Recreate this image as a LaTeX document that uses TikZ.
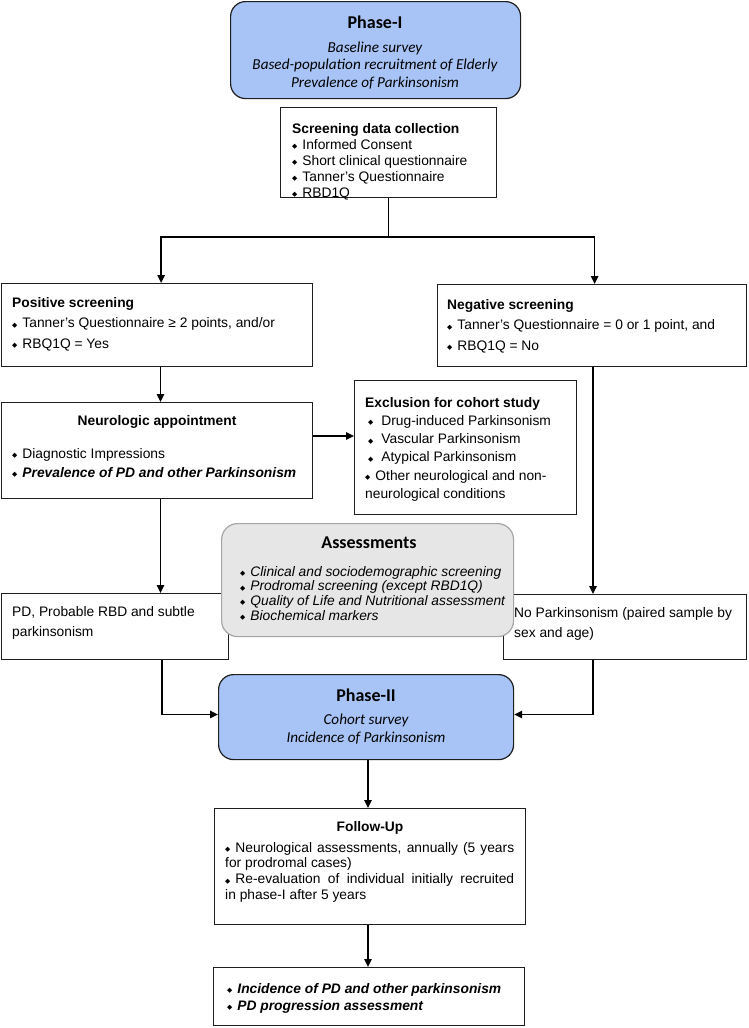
\documentclass[tikz,border=0pt]{standalone}
\usepackage{fontspec}
\setmainfont{Liberation Sans}
\newfontfamily\calfont{Carlito}
\newfontfamily\symfont{DejaVu Sans}
\usetikzlibrary{arrows.meta}
\definecolor{phblue}{RGB}{168,196,246}
\definecolor{asgray}{RGB}{230,230,230}
\definecolor{asedge}{RGB}{165,165,165}
\definecolor{edge}{RGB}{30,30,30}
\newcommand\bl{{\symfont\fontsize{6.8}{6.8}\selectfont\raisebox{0.6pt}{◆}}\hspace{5pt}}
\newcommand\fs[1]{\fontsize{13.8}{#1}\selectfont}
\tikzset{
  box/.style={draw=edge, line width=1.2pt, fill=white, inner sep=0pt, anchor=north west},
  phase/.style={draw=edge, line width=1.2pt, fill=phblue, rounded corners=15pt, inner sep=0pt, anchor=north west},
  assess/.style={draw=asedge, line width=1.2pt, fill=asgray, rounded corners=16pt, inner sep=0pt, anchor=north west},
  txt/.style={inner sep=0pt, anchor=north west, align=left},
  ttl/.style={inner sep=0pt, font=\bfseries\fs{16}},
  caltitle/.style={inner sep=0pt, font=\calfont\bfseries\fontsize{18}{18}\selectfont},
  arr/.style={line width=1.3pt, -{Triangle[length=8pt,width=7.5pt]}},
  ln/.style={line width=1.3pt},
}
\begin{document}
\begin{tikzpicture}[x=1pt,y=-1pt]
\useasboundingbox (0,0) rectangle (748,1028);
\fill[white] (0,0) rectangle (748,1028);

% Phase I
\node[phase, minimum width=290pt, minimum height=97pt] (ph1) at (230,1) {};
\node[caltitle] (ph1t) at (375,22) {Phase-I};
\node[inner sep=0pt, anchor=north, align=center, font=\calfont\itshape\fontsize{15.2}{17.5}\selectfont] (ph1s) at (375,41.5) {Baseline survey\\Based-population recruitment of Elderly\\Prevalence of Parkinsonism};

% Screening
\node[box, minimum width=216pt, minimum height=90pt] (scr) at (280,107) {};
\node[txt, font=\fs{16}] (scrt) at (292,123) {\textbf{Screening data collection}\\\bl Informed Consent\\\bl Short clinical questionnaire\\\bl Tanner's Questionnaire\\\bl RBD1Q};

% Positive / negative
\node[box, minimum width=311pt, minimum height=83pt] (pos) at (1,283) {};
\node[txt, font=\fs{20.5}] (post) at (12,297) {\textbf{Positive screening}\\\bl Tanner's Questionnaire ≥ 2 points, and/or\\\bl RBQ1Q = Yes};
\node[box, minimum width=309pt, minimum height=82pt] (neg) at (437,284) {};
\node[txt, font=\fs{20.5}] (negt) at (447,299) {\textbf{Negative screening}\\\bl Tanner's Questionnaire = 0 or 1 point, and\\\bl RBQ1Q = No};

% Neurologic appointment
\node[box, minimum width=311pt, minimum height=96pt] (neu) at (1,402) {};
\node[ttl] (neut) at (157,422) {Neurologic appointment};
\node[txt, font=\fs{19}] (neul) at (12,448) {\bl Diagnostic Impressions\\{\bfseries\itshape\bl Prevalence of PD and other Parkinsonism}};

% Exclusion
\node[box, minimum width=222pt, minimum height=134pt] (exc) at (354,380) {};
\node[txt, font=\fs{18.2}] (exct) at (365,397) {\textbf{Exclusion for cohort study}\\\hspace{3pt}\bl\hspace{3pt}Drug-induced Parkinsonism\\\hspace{3pt}\bl\hspace{3pt}Vascular Parkinsonism\\\hspace{3pt}\bl\hspace{3pt}Atypical Parkinsonism\\\bl Other neurological and non-\\neurological conditions};

% PD / No parkinsonism
\node[box, minimum width=227pt, minimum height=66pt] (pd) at (1,593) {};
\node[txt, font=\fs{20}] (pdt) at (12,606) {PD, Probable RBD and subtle\\parkinsonism};
\node[box, minimum width=243pt, minimum height=65pt] (nop) at (503,594) {};
\node[txt, font=\fs{20}] (nopt) at (514,607) {No Parkinsonism (paired sample by\\sex and age)};

% Assessments
\node[assess, minimum width=292pt, minimum height=113pt] (as) at (221,523) {};
\node[caltitle] (ast) at (369,543) {Assessments};
\node[txt, font=\itshape\fs{14.6}] (asl) at (240,566) {\bl Clinical and sociodemographic screening\\\bl Prodromal screening (except RBD1Q)\\\bl Quality of Life and Nutritional assessment\\\bl Biochemical markers};

% Phase II
\node[phase, minimum width=295pt, minimum height=85pt] (ph2) at (218,674) {};
\node[caltitle] (ph2t) at (366,695) {Phase-II};
\node[inner sep=0pt, anchor=north, align=center, font=\calfont\itshape\fontsize{15.2}{18}\selectfont] (ph2s) at (366,713.5) {Cohort survey\\Incidence of Parkinsonism};

% Follow-up
\node[box, minimum width=311pt, minimum height=116pt] (fu) at (214,808) {};
\node[ttl] (fut) at (370,828) {Follow-Up};
\node[inner sep=0pt, anchor=north west, text width=289pt, align=justify, font=\fs{15.7}] (ful) at (225,842) {\noindent\bl Neurological assessments, annually (5 years\linebreak for prodromal cases)\par\noindent\bl Re-evaluation of individual initially recruited\linebreak in phase-I after 5 years};

% Final
\node[box, minimum width=311pt, minimum height=58pt] (fin) at (213,967) {};
\node[txt, font=\bfseries\itshape\fs{17}] (fint) at (227,983) {\bl Incidence of PD and other parkinsonism\\\bl PD progression assessment};

% connectors
\coordinate (bry) at (0,237);
\coordinate (xl) at (160.5,0);
\coordinate (xl2) at (162,0);
\coordinate (xr) at (593,0);
\coordinate (xc) at (368,0);
\coordinate (exy) at (0,436);
\coordinate (p2y) at (0,714.5);
\draw[ln] (scr.south) -- (scr.south |- bry) coordinate (brc);
\draw[arr] (brc) -| ([xshift=4pt]pos.north);
\draw[arr] (brc) -| ([xshift=2.5pt]neg.north);
\draw[arr] (pos.south -| xl) -- (neu.north -| xl);
\draw[arr] (neu.east |- exy) -- (exc.west |- exy);
\draw[arr] (neu.south -| xl) -- (pd.north -| xl);
\draw[arr] (neg.south -| xr) -- (nop.north -| xr);
\draw[arr] (pd.south -| xl2) |- (ph2.west |- p2y);
\draw[arr] (nop.south -| xr) |- (ph2.east |- p2y);
\draw[arr] (ph2.south -| xc) -- (fu.north -| xc);
\draw[arr] (fu.south -| xc) -- (fin.north -| xc);
\end{tikzpicture}
\end{document}
